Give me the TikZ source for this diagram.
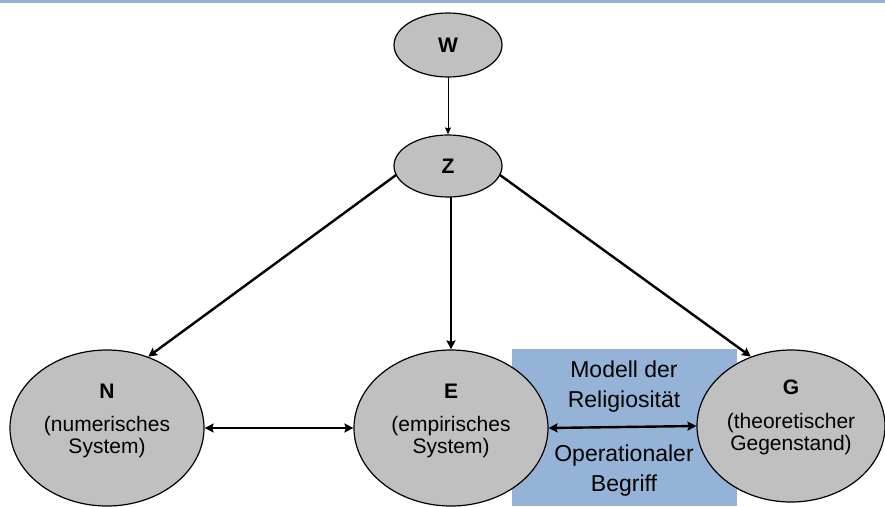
\documentclass[tikz,border=0pt]{standalone}
\usepackage{fontspec}
\setmainfont{Liberation Sans}
\usetikzlibrary{shapes.geometric,arrows.meta}
\definecolor{hellblau}{RGB}{149,179,215}
\definecolor{hellgrau}{RGB}{192,192,192}
\tikzset{
  stelle/.style={ellipse,draw,fill=hellgrau,line width=1.2pt,inner sep=0pt},
  inhalt/.style={align=center,font=\fontsize{21}{22}\selectfont},
  kasten/.style={align=center,font=\fontsize{23}{30}\selectfont},
  spitze/.tip={Stealth[length=9pt,width=9pt,inset=1.5pt]},
  pfeil/.style={line width=2.4pt,-spitze},
  doppel/.style={line width=2.4pt,spitze-spitze},
}
\begin{document}
\begin{tikzpicture}[x=1pt,y=-1pt,line cap=round,line join=round]
  \useasboundingbox (0,0) rectangle (885,506);
  \clip (0,0) rectangle (885,506);
  % blue rule and box
  \fill[hellblau] (0,0) rectangle (885,2.5);
  \fill[hellblau] (512,349) rectangle (737,506);
  % ellipses
  \node[stelle,minimum width=108pt,minimum height=64pt,font=\bfseries\fontsize{21}{22}\selectfont] (W) at (448,45) {W};
  \node[stelle,minimum width=108pt,minimum height=62pt,font=\bfseries\fontsize{21}{22}\selectfont] (Z) at (448,166) {Z};
  \node[stelle,minimum width=194pt,minimum height=156pt,
    label={[inhalt,yshift=7pt]center:\textbf{N}\\[11pt](numerisches\\System)}] (N) at (107,428) {};
  \node[stelle,minimum width=194pt,minimum height=156pt,
    label={[inhalt,yshift=7pt]center:\textbf{E}\\[11pt](empirisches\\System)}] (E) at (451,428) {};
  \node[stelle,minimum width=188pt,minimum height=152pt,
    label={[inhalt,yshift=9pt]center:\textbf{G}\\[12pt](theoretischer\\Gegenstand)}] (G) at (791,426) {};
  % box texts
  \node[kasten] (modell) at (624,387) {Modell der\\Religiosität};
  \node[kasten] (begriff) at (624,471) {Operationaler\\Begriff};
  % arrows
  \draw[line width=0.9pt,-{Stealth[length=7pt,width=6pt,inset=1pt]}] (W) -- (Z);
  \draw[pfeil] (Z.190) -- (N.60);
  \draw[pfeil] (E.north |- Z.south) -- (E.north);
  \draw[pfeil] (Z.-10) -- (G.120);
  \draw[doppel] (N.east) -- (E.west);
  \draw[doppel] (E.east) -- (G.west);
\end{tikzpicture}
\end{document}
